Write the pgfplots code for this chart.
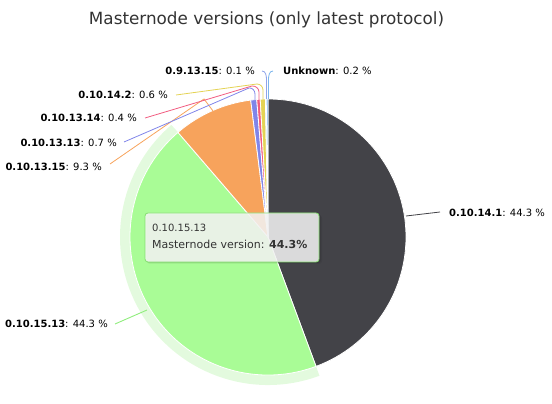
\documentclass[border=0pt]{standalone}
\usepackage{pgfplots}
\pgfplotsset{compat=1.18}
\usepackage{pgfplotstable}
\usepackage{fontspec}
\setmainfont{DejaVu Sans}
\definecolor{c0}{HTML}{434348}
\definecolor{c1}{HTML}{A9FC96}
\definecolor{c2}{HTML}{F7A35C}
\definecolor{c3}{HTML}{8085E9}
\definecolor{c4}{HTML}{F15C80}
\definecolor{c5}{HTML}{E4D354}
\definecolor{c6}{HTML}{8FA3EA}
\definecolor{c7}{HTML}{7CB5EC}
\definecolor{halo}{HTML}{90ED7D}
\definecolor{tipborder}{HTML}{86DE72}
\definecolor{txt}{HTML}{333333}
\tikzset{every dl/.style={font=\fontsize{10}{12}\selectfont, inner sep=0pt}}

\pgfplotstableread[col sep=comma]{
label,value
0.10.14.1,44.3
0.10.15.13,44.3
0.10.13.15,9.3
0.10.13.13,0.7
0.10.13.14,0.4
0.10.14.2,0.6
0.9.13.15,0.1
Unknown,0.2
}\piedata

\begin{document}
\begin{tikzpicture}
% cumulative angles from the table
\def\total{0}
\pgfplotsforeachungrouped \i in {0,...,7}{%
  \pgfplotstablegetelem{\i}{value}\of\piedata
  \pgfmathsetmacro\total{\total+\pgfplotsretval}%
}
\def\cum{0}
\pgfplotsforeachungrouped \i in {0,...,7}{%
  \pgfplotstablegetelem{\i}{value}\of\piedata
  \pgfmathsetmacro\sa{90-\cum/\total*360}%
  \pgfmathsetmacro\cum{\cum+\pgfplotsretval}%
  \pgfmathsetmacro\ea{90-\cum/\total*360}%
  \expandafter\xdef\csname sa\i\endcsname{\sa}%
  \expandafter\xdef\csname ea\i\endcsname{\ea}%
}
\begin{axis}[
  x=1pt, y=1pt,
  xmin=0, xmax=552, ymin=0, ymax=392,
  hide axis, scale only axis,
  clip=false,
]
\path (axis cs:0,0) rectangle (axis cs:552,392);
% title
\node[text=txt, font=\fontsize{16.8}{18}\selectfont] at (axis cs:266.5,372) {Masternode versions (only latest protocol)};
% halo of hovered slice
\draw[halo, opacity=0.25, line width=10pt] (axis cs:268,155) ++(\csname sa1\endcsname:143pt) arc[start angle=\csname sa1\endcsname, end angle=\csname ea1\endcsname, radius=143pt];
% slices
\pgfplotsinvokeforeach{0,...,7}{
  \fill[c#1, draw=white, line width=0.8pt, line join=round] (axis cs:268,155) -- ++(\csname sa#1\endcsname:138pt) arc[start angle=\csname sa#1\endcsname, end angle=\csname ea#1\endcsname, radius=138pt] -- cycle;
}
% connectors
\draw[c0, line width=0.8pt] (axis cs:406,176) -- (axis cs:440,180);
\draw[halo, line width=0.9pt] (axis cs:115,68) -- (axis cs:147,82);
\draw[c2, line width=0.8pt] (axis cs:110,228) -- (axis cs:204,293) -- (axis cs:213,281);
\draw[c3, line width=0.8pt] (axis cs:124,250) -- (axis cs:249,304) to[out=10,in=90] (axis cs:255,298) -- (axis cs:255,291);
\draw[c4, line width=0.8pt] (axis cs:145,274) -- (axis cs:252,306) to[out=5,in=90] (axis cs:259,300) -- (axis cs:259,292);
\draw[c5, line width=0.8pt] (axis cs:176,297) -- (axis cs:257,308) to[out=0,in=90] (axis cs:263,302) -- (axis cs:263,292);
\draw[c6, line width=0.8pt] (axis cs:262,321) to[out=0,in=90] (axis cs:266.5,312) -- (axis cs:266.5,293);
\draw[c7, line width=0.8pt] (axis cs:273,321) to[out=180,in=90] (axis cs:268.5,312) -- (axis cs:268.5,293);
% data labels
\node[every dl, anchor=west] at (axis cs:449,179) {\textbf{0.10.14.1}: 44.3 \%};
\node[every dl, anchor=east] at (axis cs:108,68) {\textbf{0.10.15.13}: 44.3 \%};
\node[every dl, anchor=east] at (axis cs:102,225) {\textbf{0.10.13.15}: 9.3 \%};
\node[every dl, anchor=east] at (axis cs:117,249) {\textbf{0.10.13.13}: 0.7 \%};
\node[every dl, anchor=east] at (axis cs:137,274) {\textbf{0.10.13.14}: 0.4 \%};
\node[every dl, anchor=east] at (axis cs:168,297) {\textbf{0.10.14.2}: 0.6 \%};
\node[every dl, anchor=east] at (axis cs:255,321) {\textbf{0.9.13.15}: 0.1 \%};
\node[every dl, anchor=west] at (axis cs:283,321) {\textbf{Unknown}: 0.2 \%};
% tooltip
\fill[black, opacity=0.05, rounded corners=3pt] (axis cs:147,128) rectangle (axis cs:322,177);
\fill[black, opacity=0.08, rounded corners=3pt] (axis cs:146,129) rectangle (axis cs:321,178);
\filldraw[fill=white!97!black, fill opacity=0.85, draw=tipborder, line width=0.8pt, rounded corners=3pt] (axis cs:145,130) rectangle (axis cs:319,179);
\node[anchor=base west, inner sep=0pt, text=txt, font=\fontsize{10}{12}\selectfont] at (axis cs:152,160.5) {0.10.15.13};
\node[anchor=base west, inner sep=0pt, text=txt, font=\fontsize{11}{13}\selectfont] at (axis cs:152,143) {Masternode version: \textbf{44.3\%}};
\end{axis}
\end{tikzpicture}
\end{document}
